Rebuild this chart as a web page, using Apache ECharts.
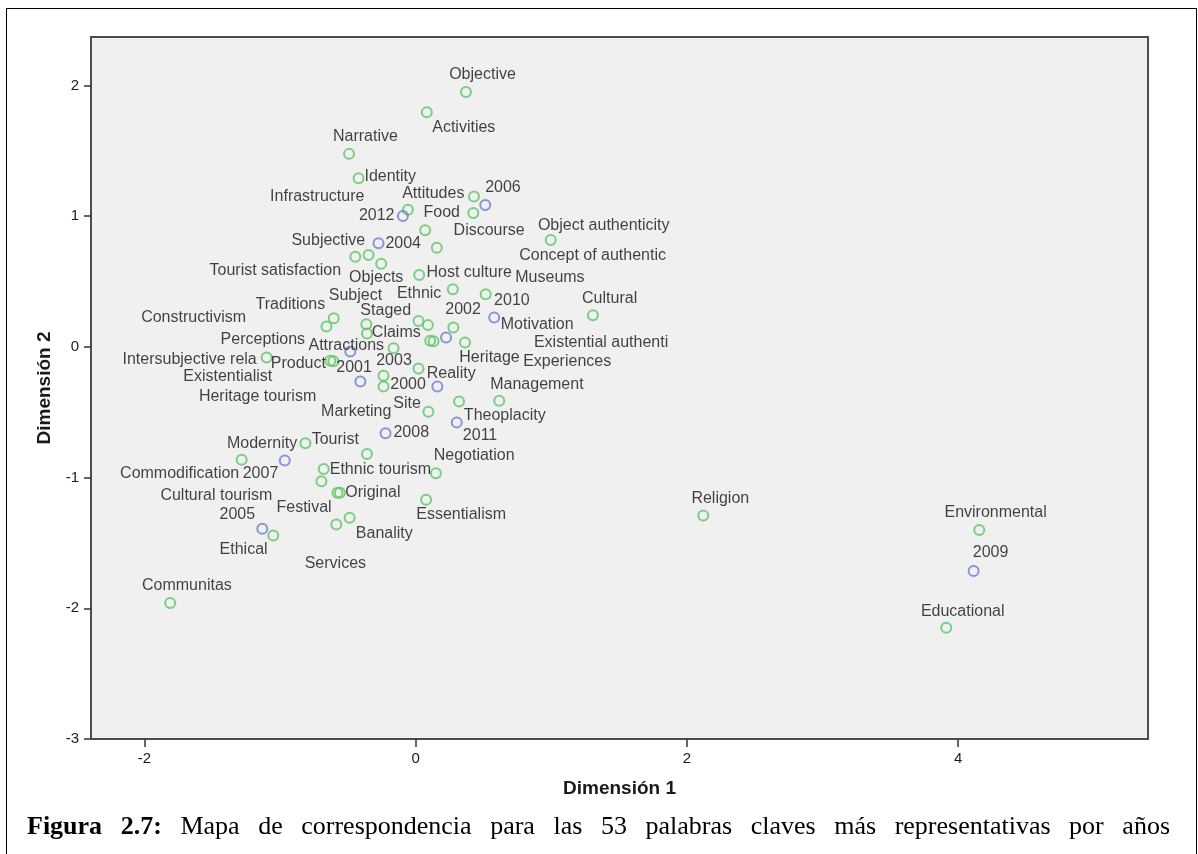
<!DOCTYPE html>
<html>
<head>
<meta charset="utf-8">
<script src="https://cdn.jsdelivr.net/npm/echarts@6/dist/echarts.min.js"></script>
<style>
  html, body { margin: 0; padding: 0; background: #ffffff; width: 1198px; height: 854px; overflow: hidden; }
  #frame { position: absolute; left: 6px; top: 8px; width: 1191px; height: 860px; border: 1px solid #000; box-sizing: border-box; }
  #chart { position: absolute; left: 0; top: 0; width: 1198px; height: 854px; }
  #caption { position: absolute; left: 27px; top: 810px; width: 1143px; font-family: "Liberation Serif", "Times New Roman", serif; font-size: 26px; line-height: 32px; color: #000; text-align: justify; text-align-last: justify; white-space: nowrap; }
  #caption b { font-weight: bold; }
</style>
</head>
<body>
<div id="frame"></div>
<div id="chart"></div>
<div id="caption"><b>Figura 2.7:</b> Mapa de correspondencia para las 53 palabras claves más representativas por años</div>
<script>
// ---- Data ----
const keywords = ["Objective","Activities","Narrative","Identity","Attitudes","Infrastructure","Food","Discourse",
  "Concept of authentic","Object authenticity","Subjective","Tourist satisfaction","Objects","Host culture","Ethnic",
  "Museums","Cultural","Subject","Traditions","Constructivism","Claims","Staged","Motivation","Existential authenti",
  "Experiences","Heritage tourism","Heritage","Attractions","Intersubjective rela","Product","Perceptions","Reality",
  "Existentialist","Marketing","Theoplacity","Management","Site","Modernity","Tourist","Commodification",
  "Ethnic tourism","Cultural tourism","Original","Services","Negotiation","Essentialism","Festival","Banality",
  "Ethical","Communitas","Religion","Environmental","Educational"];
const keywordDim1 = [0.371,0.082,-0.491,-0.421,0.430,-0.057,0.425,0.070,
  0.156,0.996,-0.445,-0.347,-0.254,0.026,0.274,
  0.516,1.307,-0.604,-0.658,-0.364,-0.359,0.021,0.090,0.278,
  0.107,0.132,0.364,-0.163,-1.099,-0.629,-0.607,0.021,
  -0.237,-0.237,0.320,0.616,0.094,-0.813,-0.359,-1.283,
  -0.678,-0.695,-0.577,-0.559,0.149,0.077,-0.585,-0.487,
  -1.050,-1.810,2.121,4.156,3.912];
const keywordDim2 = [1.949,1.794,1.476,1.289,1.150,1.048,1.023,0.891,
  0.758,0.817,0.689,0.702,0.636,0.550,0.440,
  0.402,0.242,0.219,0.155,0.173,0.102,0.198,0.166,0.147,
  0.046,0.042,0.033,-0.010,-0.082,-0.107,-0.111,-0.166,
  -0.221,-0.303,-0.418,-0.412,-0.496,-0.738,-0.819,-0.863,
  -0.934,-1.028,-1.117,-1.117,-0.967,-1.170,-1.359,-1.308,
  -1.443,-1.960,-1.290,-1.402,-2.149];

const years = ["2000","2001","2002","2003","2004","2005","2006","2007","2008","2009","2010","2011","2012"];
const yearDim1 = [0.160,-0.408,0.224,-0.482,-0.274,-1.131,0.513,-0.965,-0.222,4.114,0.579,0.303,-0.094];
const yearDim2 = [-0.303,-0.265,0.071,-0.036,0.792,-1.392,1.084,-0.870,-0.662,-1.714,0.224,-0.578,1.000];

const xTicks = [-2, 0, 2, 4];
const yTicks = [-3, -2, -1, 0, 1, 2];

// ---- Label placement (layout only, pixels relative to each point) ----
const keywordLabelOffsets = [[16.5,-17.4],[37,15],[16.3,-17.4],[31.7,-1.3],[-40.7,-3],[-90.7,-13.7],[-31.6,-0.3],[64,0],
  [155.8,8.3],[53,-14.7],[-27,-15.7],[-93.3,15.3],[-5,14],[50,-2.3],[-33.7,4],
  [64.3,-16.6],[16.7,-16.6],[21.7,-23],[-36,-22.4],[-172.7,-6.6],[29.3,-1],[-32.8,-10],[109.3,-1],[147.7,15],
  [137,20.7],[-176,55.2],[24.5,15],[-47.3,-2.3],[-77,1.6],[-32,2.3],[-70.5,-21.5],[32.7,5],
  [-155.8,1],[-27.3,25.3],[45.7,14.3],[37.7,-16],[-21.3,-7.7],[-43.3,0],[-31.7,-14],[-62,14.3],
  [56.7,1],[-105,14.3],[35.5,0],[-4.5,71],[38.3,-17.7],[35,15],[-32.3,-17.3],[34.7,15.4],
  [-29.7,14.3],[16.7,-17],[17,-17.3],[16.3,-17.2],[16.5,-16.5]];
const yearLabelOffsets = [[-29.3,-1.7],[-6.3,-13.4],[17,-27.7],[43.7,9.3],[24.7,0],[-25,-14],[17.7,-17.3],
  [-24.3,13.3],[25.7,-0.4],[17,-18.2],[17.7,-17.4],[23.3,13.3],[-26.2,-0.7]];

const FONT = '"Liberation Sans", Arial, sans-serif';
const GREEN = '#5cc663';
const BLUE = '#6b7ecf';

function buildPoints(names, xs, ys, offsets) {
  return names.map((n, i) => ({
    name: n,
    value: [xs[i], ys[i]],
    label: { offset: offsets[i] }
  }));
}

const labelStyle = {
  show: true,
  position: 'inside',
  align: 'center',
  verticalAlign: 'middle',
  formatter: p => p.name,
  fontFamily: FONT,
  fontSize: 16,
  color: '#141414'
};

const chart = echarts.init(document.getElementById('chart'), null, { renderer: 'canvas' });
chart.setOption({
  animation: false,
  backgroundColor: 'transparent',
  grid: {
    left: 91, top: 37, right: 50, bottom: 115,
    show: true, backgroundColor: '#f0f0f0', borderColor: '#4d4d4d', borderWidth: 2
  },
  xAxis: {
    type: 'value', min: -2.394, max: 5.40, position: 'bottom',
    name: 'Dimensión 1', nameLocation: 'middle', nameGap: 40,
    nameTextStyle: { fontFamily: FONT, fontSize: 19, fontWeight: 'bold', color: '#1a1a1a' },
    axisLine: { show: true, onZero: false, lineStyle: { color: '#4d4d4d', width: 2 } },
    splitLine: { show: false },
    axisTick: { show: true, customValues: xTicks, length: 8, lineStyle: { color: '#333', width: 1.5 } },
    axisLabel: { customValues: xTicks, fontFamily: FONT, fontSize: 15, color: '#1a1a1a', margin: 12 }
  },
  yAxis: {
    type: 'value', min: -3, max: 2.37, position: 'left',
    name: 'Dimensión 2', nameLocation: 'middle', nameGap: 37, nameRotate: 90,
    nameTextStyle: { fontFamily: FONT, fontSize: 19, fontWeight: 'bold', color: '#1a1a1a' },
    axisLine: { show: true, onZero: false, lineStyle: { color: '#4d4d4d', width: 2 } },
    splitLine: { show: false },
    axisTick: { show: true, customValues: yTicks, length: 7, lineStyle: { color: '#333', width: 1.5 } },
    axisLabel: { customValues: yTicks, fontFamily: FONT, fontSize: 15, color: '#1a1a1a', margin: 12 }
  },
  series: [
    {
      name: 'Palabras clave', type: 'scatter', symbol: 'circle', symbolSize: 10,
      itemStyle: { color: 'rgba(0,0,0,0)', borderColor: GREEN, borderWidth: 2 },
      label: labelStyle,
      emphasis: { disabled: true },
      data: buildPoints(keywords, keywordDim1, keywordDim2, keywordLabelOffsets)
    },
    {
      name: 'Años', type: 'scatter', symbol: 'circle', symbolSize: 10,
      itemStyle: { color: 'rgba(0,0,0,0)', borderColor: BLUE, borderWidth: 2 },
      label: labelStyle,
      emphasis: { disabled: true },
      data: buildPoints(years, yearDim1, yearDim2, yearLabelOffsets)
    }
  ]
});
</script>
</body>
</html>
